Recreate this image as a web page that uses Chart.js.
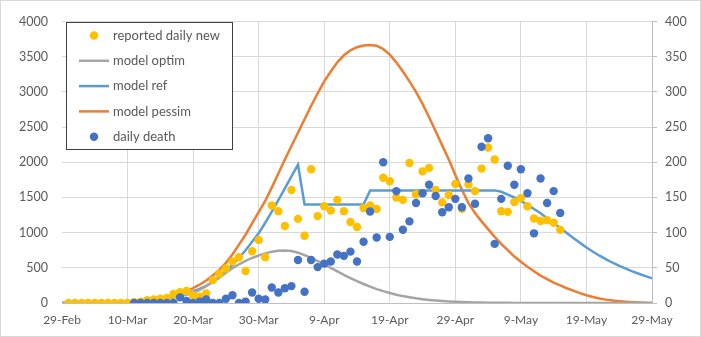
<!DOCTYPE html>
<html>
<head>
<meta charset="utf-8">
<script src="https://cdn.jsdelivr.net/npm/chart.js@4"></script>
<style>
  body { margin: 0; background: #fff; }
  #chart { display: block; }
</style>
</head>
<body>
<canvas id="chart" width="701" height="337"></canvas>
<script>
// x axis: day number counted from 29-Feb (day 0) to 29-May (day 90)
var xTickLabels = ['29-Feb', '10-Mar', '20-Mar', '30-Mar', '9-Apr', '19-Apr', '29-Apr', '9-May', '19-May', '29-May'];

// reported daily new cases, from day 1 (1-Mar) to day 76
var newCasesStart = 1;
var newCases = [
    0, 0, 0, 0, 0, 0, 0, 0, 0, 0,
    10, 20, 40, 50, 60, 70, 130, 155, 170, 110,
    90, 135, 325, 415, 490, 590, 650, 455, 735, 895,
    650, 1385, 1305, 1095, 1605, 1195, 955, 1900, 1235, 1375,
    1315, 1465, 1305, 1150, 1080, 1350, 1385, 1335, 1780, 1730,
    1500, 1465, 1990, 1545, 1870, 1920, 1605, 1430, 1535, 1690,
    1340, 1685, 1590, 1910, 2210, 2040, 1305, 1295, 1435, 1490,
    1375, 1200, 1165, 1175, 1140, 1040
];

// daily deaths (right axis), from day 11 to day 76
var deathsStart = 11;
var deaths = [
    0, 0, 0, 0, 0, 0, 0, 8, 3, 0,
    2, 5, 0, 0, 6, 11, 0, 2, 15, 6,
    5, 22, 15, 21, 24, 61, 16, 61, 51, 56,
    59, 69, 67, 73, 59, 87, 130, 93, 200, 94,
    159, 104, 116, 142, 156, 168, 152, 129, 136, 148,
    136, 177, 141, 222, 234, 84, 148, 195, 168, 190,
    156, 99, 177, 142, 159, 128
];

// model curves, day 0 .. 90
var modelOptim = [
    0, 1, 1, 2, 2, 3, 4, 5, 7, 9,
    12, 16, 21, 28, 37, 48, 62, 78, 97, 118,
    142, 185, 240, 300, 360, 430, 495, 550, 600, 640,
    675, 705, 728, 742, 746, 738, 715, 680, 640, 595,
    550, 500, 450, 400, 355, 310, 270, 232, 198, 168,
    142, 118, 98, 81, 66, 54, 44, 35, 28, 22,
    17, 13, 10, 8, 6, 4, 3, 2, 2, 1,
    1, 1, 0, 0, 0, 0, 0, 0, 0, 0,
    0, 0, 0, 0, 0, 0, 0, 0, 0, 0, 0
];
var modelRef = [
    0, 1, 1, 2, 2, 3, 4, 5, 7, 9,
    13, 17, 22, 29, 39, 51, 66, 85, 108, 135,
    165, 200, 245, 300, 370, 450, 540, 640, 750, 870,
    990, 1140, 1300, 1460, 1630, 1800, 1965, 1400, 1400, 1400,
    1400, 1400, 1400, 1400, 1400, 1400, 1400, 1600, 1600, 1600,
    1600, 1600, 1600, 1600, 1600, 1600, 1600, 1600, 1600, 1600,
    1600, 1600, 1600, 1600, 1600, 1600, 1600, 1580, 1540, 1500,
    1450, 1395, 1335, 1275, 1205, 1135, 1065, 995, 925, 855,
    788, 728, 672, 620, 572, 528, 488, 450, 415, 382, 350
];
var modelPessim = [
    0, 1, 1, 2, 2, 3, 4, 5, 7, 9,
    14, 18, 24, 32, 44, 58, 78, 102, 132, 170,
    210, 260, 320, 390, 470, 570, 690, 830, 970, 1130,
    1290, 1450, 1640, 1840, 2040, 2230, 2420, 2610, 2800, 2980,
    3150, 3290, 3420, 3520, 3590, 3635, 3660, 3665, 3655, 3610,
    3530, 3420, 3290, 3150, 3000, 2830, 2640, 2440, 2240, 2040,
    1820, 1610, 1420, 1280, 1160, 1050, 940, 840, 750, 660,
    585, 515, 450, 390, 340, 290, 250, 210, 175, 140,
    110, 85, 65, 48, 35, 25, 17, 11, 6, 3, 1
];

function toPoints(values, start) {
    return values.map(function (v, i) { return { x: i + start, y: v }; });
}

var fontFamily = "Lato, 'Open Sans', sans-serif";
var textColor = '#595959';
var gridColor = '#d9d9d9';
var axisColor = '#bfbfbf';

// excel-like legend box drawn inside the plot
var boxLegend = {
    id: 'boxLegend',
    beforeDraw: function (chart) {
        var ctx = chart.ctx;
        ctx.save();
        ctx.fillStyle = '#fff';
        ctx.fillRect(0, 0, chart.width, chart.height);
        ctx.restore();
    },
    afterDraw: function (chart) {
        var ctx = chart.ctx;
        ctx.save();
        ctx.fillStyle = '#fff';
        ctx.fillRect(66.5, 22.5, 166, 127);
        ctx.strokeStyle = '#404040';
        ctx.lineWidth = 1;
        ctx.strokeRect(66.5, 22.5, 166, 127);

        ctx.font = '13px ' + fontFamily;
        ctx.textBaseline = 'middle';
        chart.data.datasets.forEach(function (ds, i) {
            var y = 35.5 + i * 25.3;
            if (ds.showLine === false) {
                ctx.beginPath();
                ctx.arc(94, y, 4.2, 0, Math.PI * 2);
                ctx.fillStyle = ds.pointBackgroundColor;
                ctx.fill();
            } else {
                ctx.beginPath();
                ctx.moveTo(79, y);
                ctx.lineTo(109, y);
                ctx.strokeStyle = ds.borderColor;
                ctx.lineWidth = 2.5;
                ctx.stroke();
            }
            ctx.fillStyle = textColor;
            ctx.fillText(ds.label, 113, y);
        });

        // outer frame of the chart
        ctx.strokeStyle = gridColor;
        ctx.lineWidth = 1;
        ctx.strokeRect(0.5, 0.5, chart.width - 1, chart.height - 1);
        ctx.restore();
    }
};

function plainNumber(v) { return String(v); }

var config = {
    type: 'line',
    data: {
        datasets: [{
            label: 'reported daily new',
            data: toPoints(newCases, newCasesStart),
            showLine: false,
            pointRadius: 4.2,
            pointBorderWidth: 0,
            pointBackgroundColor: '#FFC000',
            borderColor: '#FFC000',
            yAxisID: 'y',
            order: 1
        }, {
            label: 'model optim',
            data: toPoints(modelOptim, 0),
            borderColor: '#A5A5A5',
            borderWidth: 2.5,
            pointRadius: 0,
            yAxisID: 'y',
            order: 3
        }, {
            label: 'model ref',
            data: toPoints(modelRef, 0),
            borderColor: '#5B9BD5',
            borderWidth: 2.5,
            pointRadius: 0,
            yAxisID: 'y',
            order: 3
        }, {
            label: 'model pessim',
            data: toPoints(modelPessim, 0),
            borderColor: '#ED7D31',
            borderWidth: 2.5,
            pointRadius: 0,
            yAxisID: 'y',
            order: 3
        }, {
            label: 'daily death',
            data: toPoints(deaths, deathsStart),
            showLine: false,
            pointRadius: 4.2,
            pointBorderWidth: 0,
            pointBackgroundColor: '#4472C4',
            borderColor: '#4472C4',
            yAxisID: 'y2',
            order: 0
        }]
    },
    options: {
        responsive: false,
        animation: false,
        devicePixelRatio: 1,
        layout: { padding: { top: 17, left: 0, right: 0, bottom: 0 } },
        plugins: {
            legend: { display: false },
            tooltip: { enabled: false }
        },
        scales: {
            x: {
                type: 'linear',
                min: 0,
                max: 90,
                afterFit: function (s) { s.height = 34; },
                ticks: {
                    stepSize: 10,
                    autoSkip: false,
                    maxRotation: 0,
                    padding: 10,
                    color: textColor,
                    font: { family: fontFamily, size: 12 },
                    callback: function (v) { return xTickLabels[Math.round(v / 10)]; }
                },
                grid: {
                    drawTicks: false,
                    color: function (c) { return c.tick && c.tick.value === 0 ? 'rgba(0,0,0,0)' : gridColor; }
                },
                border: { display: true, color: axisColor }
            },
            y: {
                position: 'left',
                min: 0,
                max: 4000,
                afterFit: function (s) { s.width = 62; },
                ticks: {
                    stepSize: 500,
                    padding: 14,
                    color: textColor,
                    font: { family: fontFamily, size: 12.5 },
                    callback: plainNumber
                },
                grid: { color: gridColor, drawTicks: false },
                border: { display: false }
            },
            y2: {
                position: 'right',
                min: 0,
                max: 400,
                afterFit: function (s) { s.width = 49; },
                ticks: {
                    stepSize: 50,
                    padding: 8,
                    color: textColor,
                    font: { family: fontFamily, size: 12.5 },
                    callback: plainNumber
                },
                grid: {
                    drawOnChartArea: false,
                    drawTicks: true,
                    tickLength: 5,
                    tickColor: axisColor
                },
                border: { display: true, color: axisColor }
            }
        }
    },
    plugins: [boxLegend]
};

var chart = new Chart(document.getElementById('chart'), config);
</script>
</body>
</html>
